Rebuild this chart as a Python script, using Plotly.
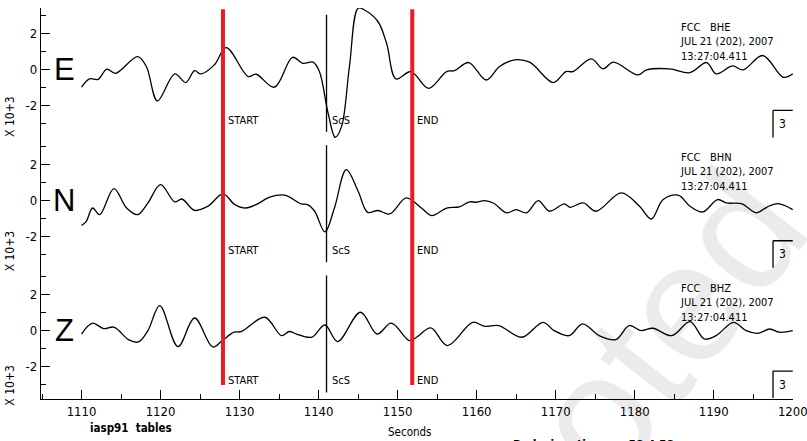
import plotly.graph_objects as go

# ---------------- data ----------------
E_t = [1110.0, 1111.0, 1112.1, 1113.2, 1114.3, 1117.1, 1118.2, 1119.6, 1121.8, 1123.2, 1124.3, 1125.1,
       1126.8, 1128.3, 1131.1, 1132.1, 1134.4, 1136.7, 1138.0, 1139.3, 1140.1, 1141.2, 1142.1, 1142.9,
       1143.9, 1145.0, 1145.8, 1147.5, 1148.6, 1149.8, 1151.7, 1153.9, 1156.2, 1157.2, 1159.0, 1161.2,
       1162.9, 1164.8, 1166.7, 1169.7, 1171.3, 1172.2, 1174.5, 1176.0, 1177.3, 1180.4, 1181.5, 1184.4,
       1187.0, 1189.1, 1190.3, 1192.4, 1193.7, 1196.2, 1198.8, 1200.0]
E_v = [-0.96, -0.5, -0.52, 0.04, -0.19, 0.74, 0.19, -1.72, -0.22, -0.7, -0.04, -0.22,
       0.28, 1.24, -0.37, -0.24, -0.96, 0.7, 0.37, 0.43, -0.09, -2.4, -3.74, -3.15,
       0.19, 3.43, 3.33, 2.69, 1.48, -0.5, -0.09, -1.02, -0.09, -0.04, 0.41, -0.56,
       0.19, 0.56, 0.43, -0.7, -0.09, -0.09, 0.61, 0.06, 0.43, -0.28, 0.0, 0.06,
       -0.15, 0.41, -0.22, 0.22, 0.0, 0.8, -0.41, -0.22]

N_t = [1110.0, 1110.6, 1111.4, 1112.3, 1114.1, 1115.7, 1117.1, 1118.4, 1120.0, 1121.8, 1122.7, 1124.3,
       1126.0, 1127.9, 1129.4, 1130.8, 1132.1, 1133.8, 1135.7, 1137.8, 1138.6, 1139.5, 1140.8, 1142.0,
       1143.5, 1145.0, 1146.2, 1147.5, 1149.0, 1151.1, 1153.0, 1154.3, 1156.2, 1157.8, 1159.1, 1160.0,
       1161.0, 1162.1, 1163.8, 1165.0, 1166.3, 1167.8, 1169.2, 1171.1, 1171.8, 1173.5, 1175.1, 1178.3,
       1180.6, 1182.1, 1183.6, 1185.5, 1187.0, 1188.6, 1190.5, 1191.6, 1193.5, 1195.4, 1196.7, 1198.1,
       1200.0]
N_v = [-1.4, -1.17, -0.43, -0.8, 0.65, -0.43, -0.8, -0.15, 0.87, -0.09, 0.07, -0.56,
       -0.33, 0.35, -0.24, -0.43, -0.24, 0.17, 0.28, -0.2, -0.24, -0.61, -1.76, -0.43,
       1.7, 0.5, -0.67, -0.57, -0.76, 0.13, -0.43, -0.85, -0.43, -0.37, -0.09, -0.11,
       -0.02, -0.15, -0.7, -0.52, -0.7, -0.02, -0.61, -0.2, -0.39, -0.15, -0.61, 0.41,
       -0.33, -1.04, 0.04, 0.28, -0.33, -0.65, 0.04, -0.15, -0.19, -0.7, -0.39, -0.19,
       -0.52]

Z_t = [1110.0, 1111.4, 1112.8, 1114.1, 1116.0, 1117.2, 1118.4, 1119.9, 1122.2, 1124.3, 1126.6, 1127.8,
       1129.3, 1130.2, 1133.2, 1135.3, 1136.3, 1137.2, 1139.1, 1140.8, 1142.4, 1145.3, 1147.4, 1149.2,
       1151.5, 1152.4, 1154.2, 1156.3, 1159.5, 1161.0, 1162.8, 1165.7, 1168.4, 1169.8, 1171.7, 1173.4,
       1175.5, 1177.6, 1179.3, 1180.8, 1182.3, 1184.7, 1187.0, 1188.8, 1190.3, 1192.5, 1194.1, 1195.6,
       1197.1, 1198.3, 1200.0]
Z_v = [-0.19, 0.41, 0.11, 0.19, -0.52, -0.63, 0.0, 1.39, -0.89, 0.7, -0.91, -0.56,
       -0.09, -0.06, 0.74, -0.28, -0.05, -0.19, -0.37, 0.31, -0.61, 1.02, -0.19, 0.41,
       -0.56, -0.37, 0.15, -0.83, 0.46, 0.24, 0.28, -0.37, 0.46, 0.0, -0.28, 0.37,
       -0.28, -0.5, 0.28, 0.0, 0.13, -0.28, 0.5, -0.46, -0.28, 0.46, 0.0, -0.15,
       0.09, -0.09, 0.0]

components = ["E", "N", "Z"]
channels = ["BHE", "BHN", "BHZ"]
station = "FCC"
date_text = "JUL 21 (202), 2007"
time_text = "13:27:04.411"
pick_names = ["START", "ScS", "END"]
pick_times = [1127.9, 1141.0, 1151.85]
x_ticks = [1110, 1120, 1130, 1140, 1150, 1160, 1170, 1180, 1190, 1200]
y_ticks = [-2, 0, 2]
y_tick_labels = ["-2", "0", "2"]
scale_label = "3"
unit_label = "X 10+3"

X_RANGE = [1104.87, 1200.03]
Y_RANGE = [-3.8, 3.44]
NARROW = "DejaVu Sans Condensed, Liberation Sans Narrow, Arial Narrow, sans-serif"
RED = "#ed1c24"

series = [(E_t, E_v), (N_t, N_v), (Z_t, Z_v)]
yaxes = ["y", "y2", "y3"]
domains = [[2 / 3, 1.0], [1 / 3, 2 / 3], [0.0, 1 / 3]]

fig = go.Figure()
for (t, v), ya in zip(series, yaxes):
    fig.add_trace(go.Scatter(x=t, y=v, mode="lines", xaxis="x", yaxis=ya,
                             line=dict(color="black", width=1.3, shape="spline", smoothing=1.0),
                             hoverinfo="skip", showlegend=False))

shapes = []
annotations = []

# red START / END lines across all panels
for name, tp in zip(pick_names, pick_times):
    if name != "ScS":
        shapes.append(dict(type="line", xref="x", yref="paper", x0=tp, x1=tp, y0=0.036, y1=0.997,
                           line=dict(color=RED, width=4)))

for i, (comp, ch, ya) in enumerate(zip(components, channels, yaxes)):
    # ScS marker line
    t_scs = pick_times[pick_names.index("ScS")]
    shapes.append(dict(type="line", xref="x", yref=ya, x0=t_scs, x1=t_scs, y0=-3.44, y1=3.06,
                       line=dict(color="black", width=1.3)))
    # pick labels
    for name, tp in zip(pick_names, pick_times):
        annotations.append(dict(x=tp, y=-2.8, xref="x", yref=ya, text=name, showarrow=False,
                                xanchor="left", yanchor="middle", xshift=3,
                                font=dict(family=NARROW, size=11, color="black")))
    # header text block
    header = station + "   " + ch + "<br>" + date_text + "<br>" + time_text
    annotations.append(dict(x=1197.6, y=1.55, xref="x", yref=ya, text=header, showarrow=False,
                            xanchor="left", yanchor="middle", xshift=-96, align="left",
                            font=dict(family=NARROW, size=11, color="black")))
    # scale bracket
    shapes.append(dict(type="line", xref="x", yref=ya, x0=1197.5, x1=1197.5, y0=-2.25, y1=-3.75,
                       line=dict(color="black", width=1.3)))
    shapes.append(dict(type="line", xref="x", yref=ya, x0=1197.5, x1=1200, y0=-2.25, y1=-2.25,
                       line=dict(color="black", width=1.3)))
    annotations.append(dict(x=1198.65, y=-3.0, xref="x", yref=ya, text=scale_label, showarrow=False,
                            font=dict(family=NARROW, size=12, color="black")))
    # component letter
    annotations.append(dict(x=0.0306, y=0, xref="paper", yref=ya, text=comp, showarrow=False,
                            xanchor="center", yanchor="middle",
                            font=dict(family="Liberation Sans, Arial, sans-serif", size=31, color="black")))
    # unit label
    annotations.append(dict(x=-0.041, y=[-2.6, -2.83, -3.05][i], xref="paper", yref=ya, text=unit_label,
                            showarrow=False, textangle=-90, xanchor="center", yanchor="middle",
                            font=dict(family=NARROW, size=12, color="black")))

annotations.append(dict(x=0.062, y=-0.075, xref="paper", yref="paper", text="<b>iasp91  tables</b>",
                        showarrow=False, xanchor="left", yanchor="middle",
                        font=dict(family=NARROW, size=11.5, color="black")))
annotations.append(dict(x=0.49, y=-0.085, xref="paper", yref="paper", text="Seconds",
                        showarrow=False, xanchor="center", yanchor="middle",
                        font=dict(family=NARROW, size=11.5, color="black")))
annotations.append(dict(x=0.625, y=-0.118, xref="paper", yref="paper", text="<b>Reducing  time  =  58.4 58</b>",
                        showarrow=False, xanchor="left", yanchor="middle",
                        font=dict(family=NARROW, size=12, color="black")))
# watermark
annotations.append(dict(x=0.666, y=-0.217, xref="paper", yref="paper", text="Promoted",
                        showarrow=False, textangle=-52, xanchor="center", yanchor="middle",
                        font=dict(family="Liberation Sans, Arial, sans-serif", size=170,
                                  color="rgba(0,0,0,0.08)")))

axis_common = dict(range=Y_RANGE, showline=True, linecolor="black", linewidth=1.3,
                   ticks="inside", ticklen=9, tickwidth=1.3, tickcolor="black",
                   tickvals=y_ticks, ticktext=y_tick_labels, showgrid=False, zeroline=False,
                   tickfont=dict(family=NARROW, size=13, color="black"), automargin=False,
                   minor=dict(ticks="inside", ticklen=5, tickwidth=1.3, tickcolor="black",
                              dtick=1, tick0=0, showgrid=False),
                   anchor="x", fixedrange=True)

layout = dict(
    width=807, height=441,
    margin=dict(l=41, r=14, t=8, b=42),
    paper_bgcolor="white", plot_bgcolor="white",
    showlegend=False,
    xaxis=dict(range=X_RANGE, domain=[0, 1], anchor="y3", showline=True, linecolor="black",
               linewidth=1.3, ticks="inside", ticklen=9, tickwidth=1.3, tickcolor="black",
               tickvals=x_ticks, ticktext=[str(v) for v in x_ticks], showgrid=False, zeroline=False,
               tickfont=dict(family=NARROW, size=13, color="black"), ticklabeloverflow="allow",
               automargin=False,
               minor=dict(ticks="inside", ticklen=5, tickwidth=1.3, tickcolor="black",
                          dtick=5, tick0=1110, showgrid=False),
               fixedrange=True),
    shapes=shapes,
    annotations=annotations,
)
for ya, dom in zip(["yaxis", "yaxis2", "yaxis3"], domains):
    layout[ya] = dict(axis_common, domain=dom)

fig.update_layout(**layout)
fig.write_html("out.html", config={"displayModeBar": False},
               post_script="document.body.style.margin='0';document.body.style.padding='0';"
                           "document.documentElement.style.overflow='hidden';")
